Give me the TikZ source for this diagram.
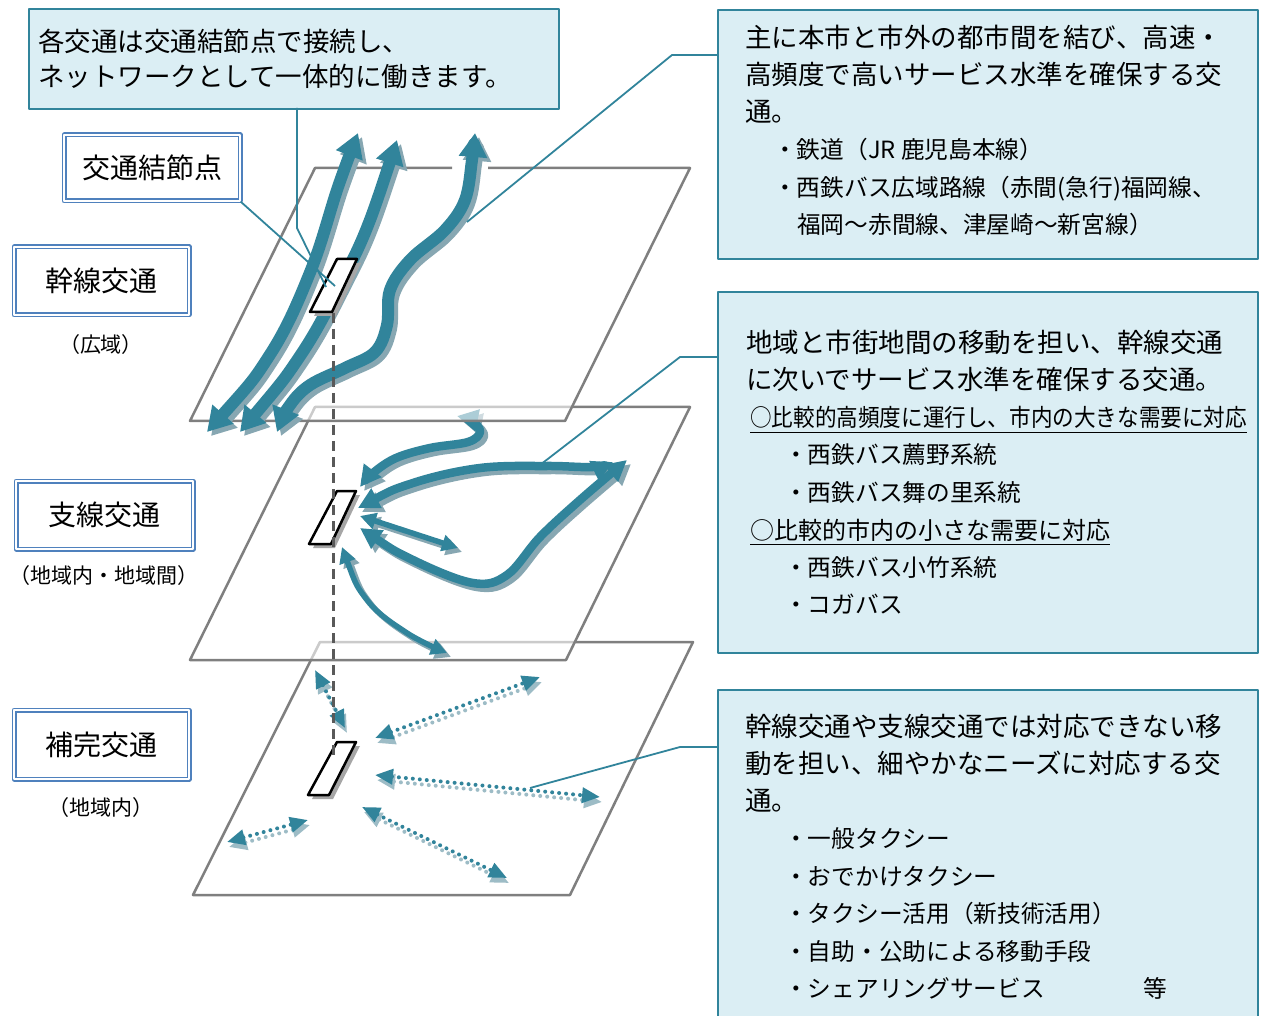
\documentclass[tikz,border=0pt]{standalone}
\usepackage{fontspec}
\usepackage{graphicx}
\setmainfont{Noto Sans CJK JP}
\usetikzlibrary{arrows.meta}
\definecolor{teal1}{HTML}{31849B}
\definecolor{tshadow}{HTML}{87A7B2}
\definecolor{dshadow}{HTML}{9DBCC6}
\definecolor{boxfill}{HTML}{DBEEF4}
\definecolor{lblue}{HTML}{4F81BD}
\definecolor{plgray}{HTML}{7F7F7F}
\definecolor{dashgray}{HTML}{595959}
\newcommand\shdraw[4]{\begin{scope}[shift={#3}]\draw[#1,color=#2]#4;\end{scope}\draw[#1,color=teal1]#4;}
\tikzset{
  bigtip/.tip={Triangle[length=24pt,width=27pt]},
  midtip/.tip={Triangle[length=21pt,width=21pt]},
  smalltip/.tip={Triangle[length=16pt,width=16pt]},
  dottip/.tip={Triangle[length=18pt,width=15pt]},
}
\begin{document}
\begin{tikzpicture}[x=1pt,y=-1pt,line join=round,
  plane/.style={draw=plgray,line width=2.5pt},
  veil/.style={fill=white,fill opacity=0.6},
  bigarr/.style={line width=12pt,arrows={bigtip-bigtip}},
  midarr/.style={line width=8.5pt,arrows={midtip-midtip}},
  thinarr/.style={line width=5.5pt,arrows={smalltip-smalltip}},
  dotarr/.style={line width=4pt,line cap=round,dash pattern=on 0pt off 7pt,arrows={dottip-dottip}},
  hubshadow/.style={fill=black!35},
  hub/.style={fill=white,draw=black,line width=2.5pt},
  callout/.style={draw=teal1,line width=1.8pt},
  infobox/.style={draw=teal1,fill=boxfill,line width=2pt,anchor=north west,inner sep=0pt},
  lblbox/.style={draw=lblue,double=white,double distance=2.4pt,line width=1.3pt,inner sep=0pt,
     font=\fontsize{28}{32}\selectfont},
  sublbl/.style={inner sep=0pt,font=\fontsize{21}{24}\selectfont},
  txt/.style={inner sep=0pt,anchor=base west,font=\fontsize{26.5}{30}\selectfont},
  btxt/.style={inner sep=0pt,anchor=base west,font=\fontsize{23.7}{27}\selectfont},
  ctxt/.style={inner sep=0pt,anchor=base west,font=\fontsize{24}{28}\selectfont},
]
\useasboundingbox (0,0) rectangle (1262,1016);

% ---------------- bottom plane (補完交通)
\filldraw[plane,fill=white] (320,642) -- (693,642) -- (570,895) -- (193,895) -- cycle;
\shdraw{dotarr}{dshadow}{(2,5)}{(315,670) -- (345,728)}
\shdraw{dotarr}{dshadow}{(2,5)}{(375,738) -- (540,677)}
\shdraw{dotarr}{dshadow}{(2,5)}{(375,775) -- (600,797)}
\shdraw{dotarr}{dshadow}{(2,5)}{(362,807) -- (507,878)}
\shdraw{dotarr}{dshadow}{(2,5)}{(227,842) -- (308,820)}
\fill[hubshadow,shift={(4,4)}] (337,742) -- (356,742) -- (329,795) -- (308,795) -- cycle;
\filldraw[hub] (337,742) -- (356,742) -- (329,795) -- (308,795) -- cycle;

% ---------------- middle plane (支線交通)
\fill[veil] (315,407) -- (690,407) -- (566,660) -- (190,660) -- cycle;
\draw[plane] (315,407) -- (690,407) -- (566,660) -- (190,660) -- cycle;
\shdraw{midarr}{tshadow}{(4,4)}{plot[smooth,tension=0.6] coordinates {(457,416) (472,421) (480,432) (468,442) (430,448) (396,458) (373,473) (360,487)}}
\shdraw{midarr}{tshadow}{(4,4)}{plot[smooth,tension=0.6] coordinates {(358,508) (413,483) (480,468) (547,466) (593,467) (613,462)}}
\shdraw{thinarr}{tshadow}{(4,4)}{(360,516) -- (458,548)}
\shdraw{midarr}{tshadow}{(4,4)}{plot[smooth,tension=0.6] coordinates {(360,528) (413,560) (473,583) (507,575) (540,537) (580,500) (627,460)}}
\shdraw{thinarr}{tshadow}{(4,4)}{plot[smooth,tension=0.6] coordinates {(342,547) (367,600) (407,633) (447,653)}}
\fill[hubshadow,shift={(4,4)}] (337,491) -- (356,491) -- (331,544) -- (309,544) -- cycle;
\filldraw[hub] (337,491) -- (356,491) -- (331,544) -- (309,544) -- cycle;

% ---------------- top plane (幹線交通)
\fill[veil] (315,168) -- (690,168) -- (565,421) -- (190,421) -- cycle;
\draw[plane] (452,168) -- (315,168) -- (190,421) -- (565,421) -- (690,168) -- (488,168);
\shdraw{bigarr}{tshadow}{(4,4)}{plot[smooth,tension=0.6] coordinates {(207,432) (271,353) (311,270) (338,187) (358,133)}}
\shdraw{bigarr}{tshadow}{(4,4)}{plot[smooth,tension=0.6] coordinates {(240,432) (302,353) (345,275) (370,220) (397,140)}}
\shdraw{bigarr}{tshadow}{(4,4)}{plot[smooth,tension=0.6] coordinates {(277,432) (290,405) (310,385) (345,368) (375,352) (387,325) (390,290) (410,260) (445,230) (465,200) (472,160) (475,133)}}
\fill[hubshadow,shift={(4,4)}] (337,259) -- (357,259) -- (332,312) -- (310,312) -- cycle;
\filldraw[hub] (337,259) -- (357,259) -- (332,312) -- (310,312) -- cycle;

% vertical dashed link
\coordinate (dtop) at (333,313);
\coordinate (dbot) at (333,760);
\draw[dashgray,line width=3pt,dash pattern=on 10pt off 6pt] (dtop) -- (dbot);

% ---------------- boxes
\node[infobox,minimum width=530pt,minimum height=100pt] (bTL) at (28,8) {};
\node[txt] (tl1) at (38,52) {各交通は交通結節点で接続し、};
\node[txt] (tl2) at (38,87) {ネットワークとして一体的に働きます。};

\node[infobox,minimum width=540pt,minimum height=249pt] (bA) at (717,9) {};
\node[txt] (a1) at (745,48) {主に本市と市外の都市間を結び、高速・};
\node[txt] (a2) at (745,85) {高頻度で高いサービス水準を確保する交};
\node[txt] (a3) at (745,122) {通。};
\node[btxt] (a4) at (773,159) {・鉄道（JR 鹿児島本線）};
\node[btxt] (a5) at (773,197) {・西鉄バス広域路線（赤間(急行)福岡線、};
\node[btxt] (a6) at (797,234) {福岡～赤間線、津屋崎～新宮線）};

\node[infobox,minimum width=540pt,minimum height=361pt] (bB) at (717,291) {};
\node[txt] (b1) at (746,353) {地域と市街地間の移動を担い、幹線交通};
\node[txt] (b2) at (746,390) {に次いでサービス水準を確保する交通。};
\node[ctxt] (b3) at (750,427) {\scalebox{0.9}[1]{○比較的高頻度に運行し、市内の大きな需要に対応}};
\draw[line width=1.6pt] ([yshift=-5.5pt]b3.base west) -- ([yshift=-5.5pt]b3.base east);
\node[btxt] (b4) at (784,464) {・西鉄バス薦野系統};
\node[btxt] (b5) at (784,501) {・西鉄バス舞の里系統};
\node[ctxt] (b6) at (750,539) {○比較的市内の小さな需要に対応};
\draw[line width=1.6pt] ([yshift=-5.5pt]b6.base west) -- ([yshift=-5.5pt]b6.base east);
\node[btxt] (b7) at (784,576) {・西鉄バス小竹系統};
\node[btxt] (b8) at (784,613) {・コガバス};

\node[infobox,minimum width=540pt,minimum height=345pt] (bC) at (717,689) {};
\node[txt] (c1) at (745,736) {幹線交通や支線交通では対応できない移};
\node[txt] (c2) at (745,773) {動を担い、細やかなニーズに対応する交};
\node[txt] (c3) at (745,810) {通。};
\node[btxt] (c4) at (784,847) {・一般タクシー};
\node[btxt] (c5) at (784,885) {・おでかけタクシー};
\node[btxt] (c6) at (784,922) {・タクシー活用（新技術活用）};
\node[btxt] (c7) at (784,960) {・自助・公助による移動手段};
\node[btxt] (c8) at (784,997) {・シェアリングサービス};
\node[btxt] (c9) at (1143,997) {等};

% ---------------- left labels
\node[lblbox,minimum width=176pt,minimum height=66pt] (lN) at (152,168) {交通結節点};
\node[lblbox,minimum width=175pt,minimum height=68pt] (lK) at (101.5,281) {幹線交通};
\node[sublbl] (sK) at (101,345) {（広域）};
\node[lblbox,minimum width=177pt,minimum height=68pt] (lS) at (104.5,515) {支線交通};
\node[sublbl] (sS) at (104,576) {（地域内・地域間）};
\node[lblbox,minimum width=175pt,minimum height=69pt] (lH) at (101.5,744.5) {補完交通};
\node[sublbl] (sH) at (101,808) {（地域内）};

% ---------------- callout lines
\coordinate (hubT) at (335,286);
\coordinate (hubT2) at (326,287);
\draw[callout] (lN.south east) -- (hubT);
\draw[callout] (297,108) -- (297,228) -- (hubT2);
\coordinate (endA) at (467,222);
\draw[callout] (717,55) -- (672,55) -- (endA);
\coordinate (endB) at (540,465);
\draw[callout] (717,357) -- (680,357) -- (endB);
\coordinate (endC) at (530,788);
\draw[callout] (717,747) -- (680,747) -- (endC);
\end{tikzpicture}
\end{document}
